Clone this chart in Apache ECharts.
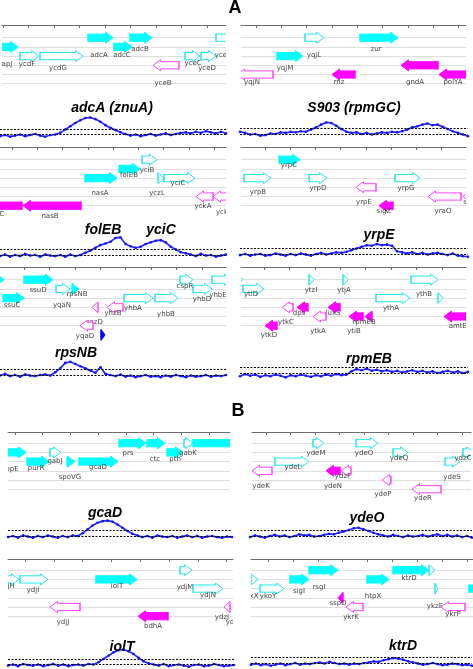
<!DOCTYPE html>
<html><head><meta charset="utf-8">
<script src="https://cdn.jsdelivr.net/npm/echarts@6/dist/echarts.min.js"></script>
<style>html,body{margin:0;padding:0;background:#fff}#c{width:473px;height:669px}</style>
</head><body><div id="c"></div>
<script>
// gene fields: name, start, end, lane, strand, kind (F filled, O open, B blue), labelLane, labelPos
const genesAdcA = [
 ['apJ', -6, 16, 2, 1, 'F', 3.9, 5],
 ['ycdF', 18, 37, 3, 1, 'O', 3.9, 25],
 ['ycdG', 38, 81, 3, 1, 'O', 4.3, 56],
 ['adcA', 86, 111, 1, 1, 'F', 2.9, 97],
 ['adcC', 112, 130, 2, 1, 'F', 2.9, 120],
 ['adcB', 128, 150, 1, 1, 'F', 2.2, 138],
 ['yceB', 151, 177, 4, -1, 'O', 5.9, 161],
 ['yceC', 183, 198, 3, 1, 'O', 3.75, 191],
 ['yceD', 199, 214, 3, 1, 'O', 4.3, 205],
 ['yce', 214, 236, 1, 1, 'O', 2.9, 219]
];
const genesRpmGC = [
 ['yqjL', 64, 83, 1, 1, 'O', 2.9, 73],
 ['zur', 119, 157, 1, 1, 'F', 2.2, 135],
 ['yqjM', 36, 62, 3, 1, 'F', 4.3, 44],
 ['yqjN', -4, 32, 5, -1, 'O', 5.8, 11],
 ['rnz', 91, 114, 5, -1, 'F', 5.8, 98],
 ['gndA', 160, 197, 4, -1, 'F', 5.8, 174],
 ['polYA', 198, 232, 5, -1, 'F', 5.8, 212]
];
const genesFolEB = [
 ['C', -10, 22, 6, -1, 'F', 6.9, 2],
 ['nasB', 23, 81, 6, -1, 'F', 7.1, 50],
 ['nasA', 85, 117, 3, 1, 'F', 4.6, 100],
 ['folEB', 119, 140, 2, 1, 'F', 2.7, 129],
 ['yciB', 142, 157, 1, 1, 'O', 2.1, 147],
 ['yczL', 158, 164, 3, 1, 'O', 4.6, 157],
 ['yciC', 164, 195, 3, 1, 'O', 3.6, 178],
 ['yckA', 196, 213, 5, -1, 'O', 6.1, 203],
 ['yck', 213, 234, 5, -1, 'O', 6.7, 222]
];
const genesYrpE = [
 ['yrpC', 38, 59, 1, 1, 'F', 1.6, 48],
 ['yrpB', 3, 30, 3, 1, 'O', 4.5, 17],
 ['yrpD', 68, 86, 3, 1, 'O', 4.1, 77],
 ['yrpE', 115, 135, 4, -1, 'O', 5.6, 123],
 ['sigZ', 138, 152, 6, -1, 'F', 6.6, 143],
 ['yrpG', 154, 179, 3, 1, 'O', 4.1, 165],
 ['yraO', 187, 220, 5, -1, 'O', 6.6, 202],
 ['s', 222, 240, 5, -1, 'O', 5.6, 224]
];
const genesRpsNB = [
 ['', -3, 4, 1, 1, 'F', 0, 0],
 ['ssuD', 24, 53, 1, 1, 'F', 2.1, 38],
 ['ssuC', 3, 24, 3, 1, 'F', 3.75, 12],
 ['yqaN', 56, 70, 2, 1, 'O', 3.75, 62],
 ['rpsNB', 72, 79, 2, 1, 'F', 2.55, 77],
 ['yqzD', 92, 98, 4, -1, 'O', 5.6, 94],
 ['yqaD', 80, 93, 6, -1, 'O', 7.1, 85],
 ['', 101, 105, 7, 1, 'B', 0, 0],
 ['yhzB', 107, 123, 4, -1, 'O', 4.6, 113],
 ['yhbA', 124, 153, 3, 1, 'O', 4.1, 133],
 ['yhbB', 155, 178, 3, 1, 'O', 4.7, 166],
 ['cspR', 180, 193, 1, 1, 'O', 1.7, 185],
 ['yhbD', 193, 212, 2, 1, 'O', 3.1, 202],
 ['yhbE', 212, 232, 1, 1, 'O', 2.7, 218]
];
const genesRpmEB = [
 ['', -5, 2, 1, 1, 'O', 0, 0],
 ['ytlD', 2, 23, 2, 1, 'O', 2.55, 10],
 ['ytzI', 68, 73, 1, 1, 'O', 2.1, 70],
 ['ytjA', 102, 107, 1, 1, 'O', 2.1, 103],
 ['ythB', 170, 197, 1, 1, 'O', 2.55, 183],
 ['ythA', 135, 169, 3, 1, 'O', 4.1, 150],
 ['', 197, 202, 3, 1, 'O', 0, 0],
 ['ytkC', 41, 52, 4, -1, 'O', 5.6, 45],
 ['dps', 56, 67, 4, -1, 'F', 4.6, 58],
 ['luxS', 87, 99, 4, -1, 'F', 4.6, 92],
 ['ytkA', 72, 85, 5, -1, 'O', 6.6, 77],
 ['ytkD', 24, 36, 6, -1, 'F', 7.0, 28],
 ['ytiB', 108, 122, 5, -1, 'F', 6.6, 113],
 ['rpmEB', 124, 131, 5, -1, 'F', 5.6, 123],
 ['amtB', 203, 232, 5, -1, 'F', 6.1, 217]
];
const genesGcaD = [
 ['opE', -10, 18, 2, 1, 'F', 3.8, 4],
 ['purR', 19, 41, 3, 1, 'F', 3.7, 28],
 ['gabJ', 42, 53, 2, 1, 'O', 3.0, 47],
 ['spoVG', 59, 67, 3, 1, 'F', 4.7, 62],
 ['gcaD', 71, 110, 3, 1, 'F', 3.6, 90],
 ['prs', 111, 138, 1, 1, 'F', 2.1, 120],
 ['ctc', 139, 157, 1, 1, 'F', 2.7, 147],
 ['pth', 159, 175, 2, 1, 'F', 2.7, 167],
 ['gabK', 176, 185, 1, 1, 'O', 2.1, 180],
 ['', 185, 240, 1, 1, 'F', 0, 0]
];
const genesYdeO = [
 ['ydeM', 61, 72, 1, 1, 'O', 2.1, 64],
 ['ydeO', 104, 126, 1, 1, 'O', 2.1, 112],
 ['ydeQ', 141, 156, 2, 1, 'O', 2.6, 147],
 ['ydeL', 23, 57, 3, 1, 'O', 3.6, 41],
 ['ydeS', 193, 208, 3, 1, 'O', 4.7, 200],
 ['ydzC', 211, 222, 2, 1, 'O', 2.6, 211],
 ['ydeK', 0, 20, 4, -1, 'O', 5.65, 9],
 ['ydeN', 74, 88, 4, -1, 'F', 5.65, 81],
 ['ydzF', 89, 99, 4, -1, 'O', 4.6, 91],
 ['ydeP', 130, 139, 5, -1, 'O', 6.5, 131],
 ['ydeR', 160, 189, 6, -1, 'O', 7.0, 171]
];
const genesIolT = [
 ['jH', -8, 11, 2, 1, 'O', 2.7, 3],
 ['ydjI', 12, 40, 2, 1, 'O', 3.15, 25],
 ['iolT', 88, 129, 2, 1, 'F', 2.7, 109],
 ['ydjM', 172, 184, 1, 1, 'O', 2.8, 177],
 ['ydjN', 185, 215, 3, 1, 'O', 3.7, 200],
 ['ydjJ', 42, 72, 5, -1, 'O', 6.7, 55],
 ['bdhA', 130, 160, 6, -1, 'F', 7.1, 145],
 ['ydzJ', 216, 222, 5, -1, 'O', 6.1, 214],
 ['yd', 225, 240, 5, -1, 'O', 6.7, 222]
];
const genesKtrD = [
 ['xX', 0, 7, 2, 1, 'O', 3.8, 3],
 ['ykoY', 9, 33, 3, 1, 'O', 3.8, 17],
 ['sigI', 39, 58, 2, 1, 'F', 3.3, 48],
 ['rsgI', 58, 87, 1, 1, 'F', 2.8, 68],
 ['sspO', 87, 92, 4, -1, 'F', 4.6, 87],
 ['ykrK', 95, 112, 5, -1, 'O', 6.1, 100],
 ['htpX', 116, 138, 2, 1, 'F', 3.8, 122],
 ['ktrD', 142, 178, 1, 1, 'F', 1.85, 158],
 ['', 178, 184, 1, 1, 'O', 0, 0],
 ['ykzE', 184, 187, 3, 1, 'O', 4.9, 184],
 ['ykrP', 190, 214, 5, -1, 'O', 5.8, 202],
 ['', 218, 232, 3, 1, 'F', 0, 0]
];

// binding signal traces (0 = lower dashed line, 1 = upper dashed line)
const signalAdcA = [-0.3,-0.1,-0.4,-0.2,0.0,-0.3,-0.1,0.1,-0.2,-0.4,-0.1,0.0,0.3,0.9,1.5,2.1,2.6,3.0,3.1,2.8,2.3,1.7,1.2,0.8,0.4,0.1,-0.2,0.0,-0.3,-0.1,0.1,-0.2,0.0,0.2,-0.1,0.1,0.3,0.4,0.2,0.5,0.3,0.6,0.4,0.2,0.5,0.2];
const signalRpmGC = [0.4,0.2,-0.1,0.0,-0.3,-0.2,0.1,0.0,0.3,0.2,0.4,0.3,0.5,0.4,0.8,1.2,1.7,2.1,2.0,1.5,0.9,0.4,0.2,0.3,0.0,0.2,-0.1,0.1,0.3,0.2,0.4,0.3,0.5,0.8,1.2,1.4,1.7,1.9,1.6,1.7,1.3,0.9,0.5,0.2,-0.1,-0.4];
const signalFolEB = [-0.2,0.1,-0.3,0.0,-0.2,0.2,-0.1,0.0,-0.3,0.1,-0.1,-0.2,0.0,-0.3,0.1,-0.2,0.0,0.4,0.8,1.3,1.8,2.1,2.4,3.1,3.2,2.0,1.6,1.3,1.5,2.0,2.3,2.6,2.7,2.3,1.5,1.0,0.5,0.3,0.1,-0.2,0.2,-0.1,0.0,-0.3,-0.1,0.1];
const signalYrpE = [-0.2,0.0,-0.3,-0.1,0.0,-0.3,-0.2,0.1,-0.1,-0.3,0.0,-0.2,0.1,-0.1,-0.3,0.0,0.2,-0.1,0.1,0.3,0.2,0.4,0.7,1.0,1.3,1.6,1.5,1.8,1.6,1.7,1.5,0.5,0.3,0.1,0.3,0.0,0.2,-0.1,0.1,0.2,0.0,-0.2,0.1,-0.3,-0.4,-0.5];
const signalRpsNB = [-0.1,0.2,-0.2,0.0,-0.3,0.1,-0.1,-0.2,0.0,0.1,-0.1,0.5,1.2,2.2,2.4,2.0,1.6,1.2,0.8,0.4,1.4,0.2,0.0,-0.2,0.1,-0.3,-0.1,-0.4,-0.2,0.0,-0.3,-0.2,-0.4,-0.1,-0.3,0.0,-0.2,-0.4,-0.1,-0.3,-0.2,0.0,-0.3,-0.1,-0.2,0.0];
const signalRpmEB = [-0.6,-0.2,-0.5,-0.3,-0.7,-0.4,-0.6,-0.3,-0.5,-0.8,-0.4,-0.6,-0.3,-0.5,-0.7,-0.4,-0.6,-0.3,-0.5,-0.2,-0.4,-0.3,0.3,0.7,0.5,0.8,0.4,0.6,0.3,0.5,0.2,0.4,0.1,0.3,0.5,0.2,0.4,0.1,0.3,0.0,0.2,0.4,0.1,0.3,0.0,0.2];
const signalGcaD = [-0.2,0.0,-0.3,0.1,-0.1,-0.3,0.0,-0.2,0.1,-0.1,-0.3,0.0,-0.2,0.1,0.0,0.5,1.2,1.9,2.4,2.7,2.8,2.6,2.1,1.5,0.9,0.4,0.1,-0.2,0.0,-0.3,0.1,-0.1,-0.2,0.0,-0.3,-0.1,0.1,-0.2,0.0,-0.3,-0.1,0.0,-0.2,-0.3,-0.1,-0.2];
const signalYdeO = [-0.2,0.1,-0.1,-0.3,0.0,0.2,-0.1,0.1,-0.2,0.0,0.3,0.1,0.2,-0.1,0.0,0.2,0.4,0.3,0.6,0.8,1.1,1.4,1.5,1.2,0.9,0.6,0.3,0.1,-0.1,0.2,0.0,-0.2,0.1,-0.1,0.0,0.2,-0.1,0.1,0.3,0.0,0.2,-0.1,0.1,-0.2,0.0,-0.3];
const signalIolT = [-0.2,0.0,-0.3,0.1,-0.1,-0.2,0.0,-0.3,-0.1,0.1,-0.2,0.0,-0.3,-0.1,0.0,-0.2,0.1,0.0,0.4,1.0,1.6,2.2,2.6,2.7,2.4,1.9,1.2,0.6,0.2,0.0,-0.2,0.1,-0.3,-0.1,0.0,-0.2,-0.4,-0.1,0.0,-0.3,-0.2,0.1,-0.1,-0.3,-0.2,-0.1];
const signalKtrD = [-0.3,-0.1,-0.4,-0.2,-0.5,-0.3,-0.1,-0.4,-0.2,0.0,-0.3,-0.1,-0.2,0.0,0.1,-0.1,0.2,0.0,-0.2,-0.1,-0.3,-0.1,-0.2,0.0,0.1,0.3,0.2,0.5,0.7,0.9,0.8,0.6,0.3,0.1,-0.1,-0.3,-0.2,0.0,-0.2,-0.4,-0.3,-0.1,-0.2,-0.4,-0.3,-0.5];

const titles = ['adcA (znuA)', 'S903 (rpmGC)', 'folEB', 'yciC', 'yrpE', 'rpsNB', 'rpmEB', 'gcaD', 'ydeO', 'iolT', 'ktrD'];
const panelLetters = ['A', 'B'];

// ---- layout (pixel geometry, kept separate from data) ----
const titlePos = [[112,108],[354,108],[103,230],[161,230],[379,235],[76,353],[369,359],[105,513],[367,518],[122,647],[403,646]];
const letterPos = [[235,8],[238,411]];
const layout = [
 {genes: genesAdcA, signal: signalAdcA, left:2, width:224, axisY:25, laneTop:28.5, tick0:1, tickStep:25.5, sigLeft:0, sigWidth:226, dashY:134.5},
 {genes: genesRpmGC, signal: signalRpmGC, left:241, width:225, axisY:25, laneTop:28.5, tick0:15, tickStep:25.3, sigLeft:240, sigWidth:228, dashY:134},
 {genes: genesFolEB, signal: signalFolEB, left:0, width:226, axisY:147, laneTop:150.5, tick0:12, tickStep:25.25, sigLeft:0, sigWidth:226, dashY:255},
 {genes: genesYrpE, signal: signalYrpE, left:241, width:225, axisY:147, laneTop:150.5, tick0:24, tickStep:25.2, sigLeft:240, sigWidth:228, dashY:254},
 {genes: genesRpsNB, signal: signalRpsNB, left:0, width:226, axisY:267, laneTop:270.5, tick0:24, tickStep:25.4, sigLeft:0, sigWidth:226, dashY:375},
 {genes: genesRpmEB, signal: signalRpmEB, left:241, width:225, axisY:267, laneTop:270.5, tick0:23, tickStep:25.4, sigLeft:240, sigWidth:228, dashY:373},
 {genes: genesGcaD, signal: signalGcaD, left:8, width:222, axisY:432, laneTop:434, tick0:7, tickStep:27.7, sigLeft:8, sigWidth:224, dashY:536},
 {genes: genesYdeO, signal: signalYdeO, left:252, width:219, axisY:432, laneTop:434, tick0:14, tickStep:24.5, sigLeft:250, sigWidth:222, dashY:536},
 {genes: genesIolT, signal: signalIolT, left:8, width:225, axisY:559, laneTop:561, tick0:17, tickStep:28.8, sigLeft:8, sigWidth:226, dashY:664.5},
 {genes: genesKtrD, signal: signalKtrD, left:251, width:222, axisY:559, laneTop:561, tick0:17, tickStep:24.9, sigLeft:251, sigWidth:221, dashY:663}
];
const LANE = 9.2, UNIT = 5.5;
const geneColors = {
 'F1': {fill:'#00ffff', stroke:'#00ffff'},
 'O1': {fill:'#ffffff', stroke:'#22e6ea'},
 'F-1': {fill:'#ff00ff', stroke:'#ff00ff'},
 'O-1': {fill:'#ffffff', stroke:'#ff44ff'},
 'B1': {fill:'#0000ff', stroke:'#0000ff'},
 'B-1': {fill:'#0000ff', stroke:'#0000ff'}
};
const laneColor = '#dedede';

function makeRender(genes) {
  return function (params, api) {
    const g = genes[params.dataIndex];
    const a = api.coord([api.value(0), api.value(2)]);
    const b = api.coord([api.value(1), api.value(2)]);
    const strand = api.value(3);
    const y = a[1], x0 = a[0], x1 = b[0];
    const len = x1 - x0, hl = Math.min(7.5, len), bh = 3.6, hh = 5.5;
    let pts, tailX;
    if (strand > 0) {
      pts = [[x0,y-bh],[x1-hl,y-bh],[x1-hl,y-hh],[x1,y],[x1-hl,y+hh],[x1-hl,y+bh],[x0,y+bh]]; tailX = x0;
    } else {
      pts = [[x1,y-bh],[x0+hl,y-bh],[x0+hl,y-hh],[x0,y],[x0+hl,y+hh],[x0+hl,y+bh],[x1,y+bh]]; tailX = x1;
    }
    const st = geneColors[g[5] + (strand > 0 ? '1' : '-1')];
    const children = [
      {type:'polygon', shape:{points:pts}, style:{fill:st.fill, stroke:st.stroke, lineWidth:1}},
      {type:'line', shape:{x1:tailX, y1:y-4.5, x2:tailX, y2:y+4.5}, style:{stroke:st.stroke, lineWidth:1}}
    ];
    if (g[0]) {
      const lp = api.coord([api.value(5), api.value(4)]);
      children.push({type:'text', style:{text:g[0], x:lp[0], y:lp[1], fill:'#444', font:'7px "DejaVu Sans", Arial, sans-serif', align:'center', verticalAlign:'middle'}});
    }
    return {type:'group', children};
  };
}

const grids = [], xAxes = [], yAxes = [], series = [];
layout.forEach((p, i) => {
  const ticks = [];
  for (let t = p.tick0; t <= p.width + 0.01; t += p.tickStep) ticks.push(+t.toFixed(2));
  grids.push({left:p.left, top:p.laneTop, width:p.width, height:8*LANE, outerBoundsMode:'none', containLabel:false});
  xAxes.push({gridIndex:2*i, type:'value', position:'top', offset:p.laneTop - p.axisY, min:0, max:p.width,
    axisLine:{show:true, onZero:false, lineStyle:{color:'#6e6e6e', width:1}},
    axisTick:{show:true, inside:true, length:3, customValues:ticks, lineStyle:{color:'#6e6e6e'}},
    axisLabel:{show:false}, splitLine:{show:false}});
  yAxes.push({gridIndex:2*i, type:'value', inverse:true, min:0, max:8, interval:1,
    axisLine:{show:false}, axisTick:{show:false}, axisLabel:{show:false},
    splitLine:{show:true, lineStyle:{color:['rgba(0,0,0,0)',laneColor,laneColor,laneColor,laneColor,laneColor,laneColor,'rgba(0,0,0,0)','rgba(0,0,0,0)'], width:1}}});
  grids.push({left:p.sigLeft, top:p.dashY - 4*UNIT, width:p.sigWidth, height:6*UNIT, outerBoundsMode:'none', containLabel:false});
  xAxes.push({gridIndex:2*i+1, type:'value', min:0, max:p.signal.length-1, show:false});
  yAxes.push({gridIndex:2*i+1, type:'value', min:-2, max:4, show:false});

  series.push({type:'custom', xAxisIndex:2*i, yAxisIndex:2*i, clip:true, silent:true,
    renderItem: makeRender(p.genes),
    encode:{x:[0,1], y:[2]},
    data: p.genes.map(g => [g[1], g[2], g[3], g[4], g[6], g[7]])});
  series.push({type:'line', xAxisIndex:2*i+1, yAxisIndex:2*i+1, silent:true, clip:false,
    data: p.signal.map((v, k) => [k, v]),
    showSymbol:true, symbol:'circle', symbolSize:2.6,
    itemStyle:{color:'#1010ff'}, lineStyle:{color:'#2a2aff', width:1.7},
    markLine:{silent:true, symbol:'none', label:{show:false},
      lineStyle:{color:'#000', type:[2,1.5], width:1},
      data:[{yAxis:0},{yAxis:1}]}, z:1});
});

const graphics = titles.map((t, i) => ({type:'text', x:titlePos[i][0], y:titlePos[i][1], z:10,
  style:{text:t, fill:'#000', font:'italic bold 14px "Liberation Sans", Arial, sans-serif', align:'center', verticalAlign:'middle'}}));
panelLetters.forEach((l, i) => graphics.push({type:'text', x:letterPos[i][0], y:letterPos[i][1], z:10,
  style:{text:l, fill:'#000', font:'bold 18px "Liberation Sans", Arial, sans-serif', align:'center', verticalAlign:'middle'}}));

const chart = echarts.init(document.getElementById('c'), null, {renderer:'canvas'});
chart.setOption({
  animation:false, backgroundColor:'#fff',
  grid:grids, xAxis:xAxes, yAxis:yAxes, series:series, graphic:graphics
});
</script></body></html>
